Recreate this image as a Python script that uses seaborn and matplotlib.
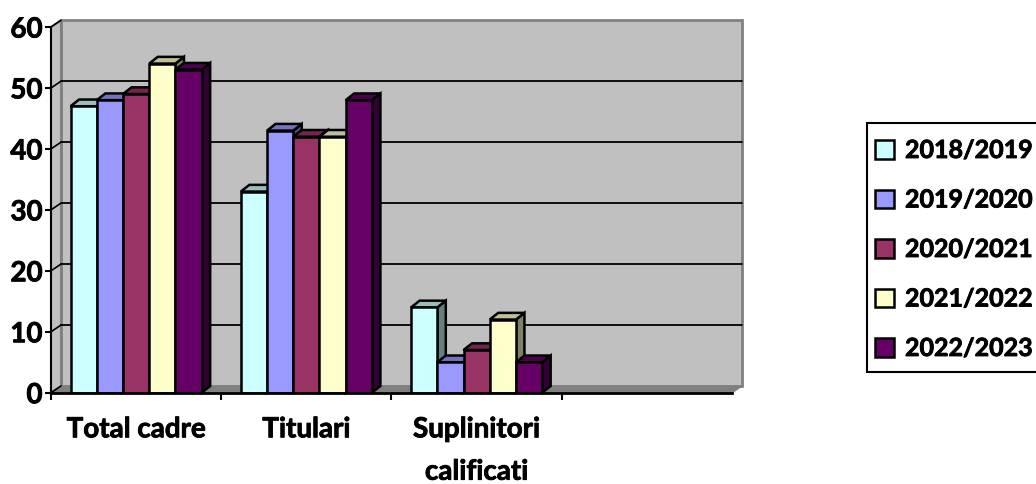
import pandas as pd
import numpy as np
import matplotlib
matplotlib.use('Agg')
import matplotlib.pyplot as plt
import matplotlib.patheffects as pe
from matplotlib.patches import Polygon, Rectangle
import seaborn as sns

# Values
categories = ['Total cadre', 'Titulari', 'Suplinitori\ncalificati']
years = ['2018/2019', '2019/2020', '2020/2021', '2021/2022', '2022/2023']
values_2018 = [47, 33, 14]
values_2019 = [48, 43, 5]
values_2020 = [49, 42, 7]
values_2021 = [54, 42, 12]
values_2022 = [53, 48, 5]
y_ticks = [0, 10, 20, 30, 40, 50, 60]

colors = ['#CCFFFF', '#9999FF', '#993366', '#FFFFCC', '#660066']
W, H = 1036, 484

sns.set_theme(style='white')
plt.rcParams['font.family'] = ['Lato', 'DejaVu Sans']
plt.rcParams['font.weight'] = 'bold'

rows = []
for year, vals in zip(years, [values_2018, values_2019, values_2020, values_2021, values_2022]):
    for cat, v in zip(categories, vals):
        rows.append({'category': cat, 'year': year, 'value': v})
df = pd.DataFrame(rows)

fig = plt.figure(figsize=(W / 100, H / 100), dpi=100)
left, right, top, bottom = 51, 732, 27, 392.7
ax = fig.add_axes([left / W, 1 - bottom / H, (right - left) / W, (bottom - top) / H])

# empty fourth slot, same as the blank category of the original
sns.barplot(data=df, x='category', y='value', hue='year', order=categories + [''],
            hue_order=years, palette=colors, saturation=1, width=0.77, gap=0,
            edgecolor='black', linewidth=1.8, err_kws={'linewidth': 0}, ax=ax)

ax.set_xlim(-0.5, 3.5)
ax.set_ylim(0, 60)
ax.set_xlabel('')
ax.set_ylabel('')
ax.patch.set_alpha(0)

# depth of the fake 3D box, in data units
wall_dx = 10 / 170.3
wall_dy = 6.7 / 6.09
bar_dx = 8.5 / 170.3
bar_dy = 6.7 / 6.09


def shade(color, factor):
    rgb = np.array(matplotlib.colors.to_rgb(color))
    return tuple(rgb * factor)


x0, x1 = -0.5, 3.5
ax.add_patch(Polygon([(x0 + wall_dx, wall_dy), (x1 + wall_dx, wall_dy), (x1 + wall_dx, 60 + wall_dy),
                      (x0 + wall_dx, 60 + wall_dy)], closed=True, facecolor='#C0C0C0',
                     edgecolor='#808080', linewidth=2, clip_on=False, zorder=0.1))
ax.add_patch(Polygon([(x0, 0), (x0 + wall_dx, wall_dy), (x0 + wall_dx, 60 + wall_dy), (x0, 60)], closed=True,
                     facecolor='#C0C0C0', edgecolor='#808080', linewidth=1.5, clip_on=False, zorder=0.2))
ax.add_patch(Polygon([(x0, 0), (x1, 0), (x1 + wall_dx, wall_dy), (x0 + wall_dx, wall_dy)], closed=True,
                     facecolor='#808080', edgecolor='#808080', linewidth=1, clip_on=False, zorder=0.2))

for v in y_ticks:
    ax.plot([x0, x0 + wall_dx], [v, v + wall_dy], color='black', lw=1.2, clip_on=False, zorder=0.3)
    if 0 < v < 60:
        ax.plot([x0 + wall_dx, x1 + wall_dx], [v + wall_dy, v + wall_dy], color='black', lw=1.3,
                clip_on=False, zorder=0.3)

# side and top faces, painted left to right so that the next bar hides them
bars = []
for cont, col in zip(ax.containers, colors):
    for p in cont.patches:
        if p.get_height() > 0:
            bars.append((p, col))
bars.sort(key=lambda b: b[0].get_x())

z = 2
for p, col in bars:
    xl, xr, h = p.get_x(), p.get_x() + p.get_width(), p.get_height()
    top_face = [(xl, h), (xr, h), (xr + bar_dx, h + bar_dy), (xl + bar_dx, h + bar_dy)]
    side_face = [(xr, 0), (xr + bar_dx, bar_dy), (xr + bar_dx, h + bar_dy), (xr, h)]
    ax.add_patch(Polygon(side_face, closed=True, facecolor=shade(col, 0.5), edgecolor='black',
                         linewidth=1.8, clip_on=False, zorder=z))
    ax.add_patch(Polygon(top_face, closed=True, facecolor=shade(col, 0.75), edgecolor='black',
                         linewidth=1.8, clip_on=False, zorder=z + 0.1))
    p.set_zorder(z + 0.2)
    z += 1

fs = 20
ax.set_yticks(y_ticks)
ax.set_yticklabels([str(v) for v in y_ticks], fontsize=fs, fontweight='bold', color='black')
ax.tick_params(axis='y', length=4, width=1.5, color='black', pad=2, left=True)

# ticks sit between the groups, labels under the group centres
ax.set_xticks([0, 1, 2])
ax.set_xticklabels(categories, fontsize=fs, fontweight='bold', color='black', linespacing=1.78)
ax.set_xticks([-0.5, 0.5, 1.5, 2.5], minor=True)
ax.tick_params(axis='x', which='major', length=0, pad=17)
ax.tick_params(axis='x', which='minor', length=5, width=1.5, color='black', bottom=True)

sns.despine(ax=ax, top=True, right=True)
ax.spines['left'].set_color('black')
ax.spines['left'].set_linewidth(1.5)
ax.spines['left'].set_zorder(1)
ax.spines['bottom'].set_color('black')
ax.spines['bottom'].set_linewidth(2)
ax.spines['bottom'].set_zorder(100)

# legend box runs off the right edge of the picture, as in the original
ax.add_patch(Rectangle((867 / W, 1 - 372 / H), 180 / W, 249 / H, transform=fig.transFigure,
                       facecolor='white', edgecolor='black', linewidth=1.5, clip_on=False, zorder=150))

handles, labels = ax.get_legend_handles_labels()
leg = ax.legend(handles, labels, loc='upper left', bbox_to_anchor=(875 / W, 1 - 139 / H),
                bbox_transform=fig.transFigure, borderaxespad=0, fontsize=18, frameon=False,
                handlelength=0.76, handleheight=0.76, handletextpad=0.44, labelspacing=1.06,
                borderpad=0, title=None)
leg.set_zorder(200)
for t in leg.get_texts():
    t.set_fontweight('bold')
    t.set_color('black')

# the original lettering is a bit heavier than Lato bold
heavy = [pe.withStroke(linewidth=0.6, foreground='black')]
for t in ax.get_xticklabels() + ax.get_yticklabels() + leg.get_texts():
    t.set_path_effects(heavy)

fig.savefig('out.png', dpi=100)
